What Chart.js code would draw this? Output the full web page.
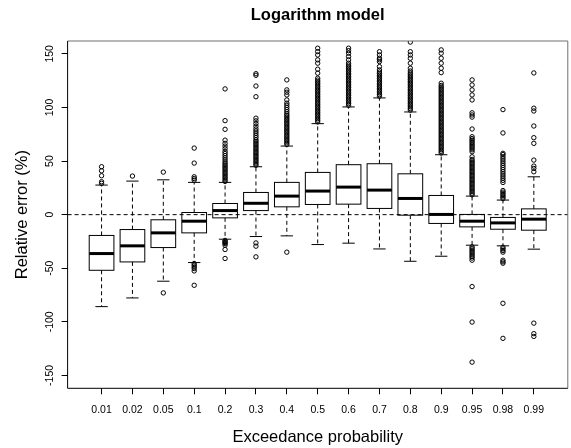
<!DOCTYPE html>
<html>
<head>
<meta charset="utf-8">
<title>Logarithm model</title>
<script src="https://cdn.jsdelivr.net/npm/chart.js@4/dist/chart.umd.min.js"></script>
<style>
  html, body { margin: 0; padding: 0; background: #fff; }
  #wrap { width: 571px; height: 448px; }
</style>
</head>
<body>
<div id="wrap"><canvas id="chart" width="571" height="448"></canvas></div>
<script>
// Exceedance probabilities (one box per category)
const categories = ['0.01', '0.02', '0.05', '0.1', '0.2', '0.3', '0.4', '0.5',
                    '0.6', '0.7', '0.8', '0.9', '0.95', '0.98', '0.99'];

// Box statistics of the relative error (%)
const whiskerLow  = [-85.8, -77.7, -62.1, -44.7, -22.9, -20.4, -19.8, -27.9, -26.6, -32.0, -43.5, -38.8, -28.5, -29.1, -32.2];
const lowerQuart  = [-51.9, -44.1, -30.7, -17.0,  -3.0,   3.8,   7.3,   9.5,   9.8,   5.8,  -0.5,  -8.2, -11.4, -13.6, -14.5];
const medians     = [-36.3, -29.1, -17.0,  -6.1,   3.8,  10.6,  17.3,  22.0,  25.7,  22.9,  15.1,   0.2,  -6.1,  -7.7,  -4.2];
const upperQuart  = [-19.4, -13.9,  -4.8,   2.0,  10.4,  20.7,  30.1,  39.4,  46.6,  47.5,  38.1,  17.9,   0.2,  -2.6,   5.4];
const whiskerHigh = [ 27.6,  31.3,  32.5,  30.1,  30.1,  44.7,  64.0,  84.9, 100.5, 108.9,  95.8,  55.9,  17.3,  13.6,  35.3];

// Points beyond the whiskers, per category
const outliers = [
  [29.2, 30.7, 36.3, 40.9, 44.7],
  [36.0],
  [39.7, -73.0],
  [32.2, 33.7, 35.3, 48.1, 62.1, -45.6, -47.2, -48.8, -50.3, -52.5, -65.9],
  [31, 32.5, 34, 35.5, 37, 38.5, 40, 41.5, 43, 44.5, 46, 47.5, 49, 51, 53, 55, 57, 59, 61.5, 64, 66.5, 69.5, 79.6, 87.7, 117.3,
   -24, -25, -26, -27, -28.5, -32.5, -40.9],
  [46, 47.5, 49, 50.5, 52, 53.5, 55, 56.5, 58, 59.5, 61, 62.5, 64, 65.5, 67, 68.5, 70, 72, 74, 76, 78, 80, 82.5, 85, 87.5, 90,
   110, 120, 130, 131.5, -26.4, -29.4, -39.4],
  [65.5, 67, 68.5, 70, 71.5, 73, 74.5, 76, 77.5, 79, 80.5, 82, 83.5, 85, 86.5, 88, 89.5, 91, 92.5, 94, 96, 98, 100, 102, 104,
   107, 111.7, 114.2, 116.4, 125.7, -35],
  [86.5, 88, 89.5, 91, 92.5, 94, 95.5, 97, 98.5, 100, 101.5, 103, 104.5, 106, 107.5, 109, 110.5, 112, 113.5, 115, 116.5, 118,
   119.5, 121, 122.5, 124, 125.5, 127.3, 132, 135.7, 141.3, 144.4, 149, 152.1, 155.3],
  [102, 103.5, 105, 106.5, 108, 109.5, 111, 112.5, 114, 115.5, 117, 118.5, 120, 121.5, 123, 124.5, 126, 127.5, 129, 130.5,
   132, 133.5, 135, 136.5, 138, 139.5, 141.3, 144.4, 147.5, 150.6, 153, 155.3],
  [110.5, 112, 113.5, 115, 116.5, 118, 119.5, 121, 122.5, 124, 125.5, 127, 128.5, 130, 131.5, 133, 135, 138.1, 142.8, 144.5,
   145.9, 149, 152],
  [97.5, 99, 100.5, 102, 103.5, 105, 106.5, 108, 109.5, 111, 112.5, 114, 115.5, 117, 118.5, 120, 121.5, 123, 124.5, 126,
   127.5, 129, 130.5, 132, 134, 136.6, 141.3, 145.9, 149, 152, 161],
  [57.5, 59, 60.5, 62, 63.5, 65, 66.5, 68, 69.5, 71, 72.5, 74, 75.5, 77, 78.5, 80, 81.5, 83, 84.5, 86, 87.5, 89, 90.5, 92,
   93.5, 95, 96.5, 98, 99.5, 101, 102.5, 104, 105.5, 107, 108.5, 110, 111.5, 113, 114.5, 116, 117.5, 119, 120.5, 122.6,
   132.5, 136.6, 141.3, 145.9, 150.6, 153.7],
  [18.5, 20, 21.5, 23, 24.5, 26, 27.5, 29, 30.5, 32, 33.5, 35, 36.5, 38, 39.5, 41, 42.5, 44, 45.5, 47, 48.5, 50, 51.5, 54,
   58.7, 60.5, 62, 63.5, 65, 66.5, 68, 69.5, 71, 72.7, 79.9, 91, 93, 95, 107, 111.7, 116.4, 121, 125.7,
   -30, -31.5, -33, -34.5, -36, -37.5, -39, -40.5, -42.5, -67.1, -100.2, -137.6],
  [15, 16.5, 18, 19.5, 21, 22.5, 30, 32, 34, 36, 38, 40, 42, 44, 46, 48, 50, 52, 54, 56, 57.2, 76.2, 98,
   -30.5, -32, -33.5, -35, -42.5, -44, -45.3, -82.7, -115.4],
  [40, 43.1, 45.3, 50.9, 66.5, 71.8, 82.7, 96.7, 99.3, 132.2, -101.2, -111, -113.6]
];

// Axis settings
const yTicks = [-150, -100, -50, 0, 50, 100, 150];
const yRange = [-162, 162];
const xRange = [-0.1, 16.1];

const FONT = '"Liberation Sans", Arial, Helvetica, sans-serif';
const BOX_HALF = 0.4;     // half box width, in category units
const STAPLE_HALF = 0.2;  // half whisker-cap width

const outlierPoints = [];
outliers.forEach((vals, i) => vals.forEach(v => outlierPoints.push({ x: i + 1, y: v })));

function seg(ctx, x1, y1, x2, y2) {
  ctx.beginPath();
  ctx.moveTo(x1, y1);
  ctx.lineTo(x2, y2);
  ctx.stroke();
}

// Draws boxes, whiskers, medians, the zero line, the frame and the y tick labels
const boxPlot = {
  id: 'boxPlot',
  beforeDatasetsDraw(chart) {
    const { ctx, scales: { x, y } } = chart;
    ctx.save();
    ctx.strokeStyle = '#000';
    ctx.lineWidth = 1;
    categories.forEach((c, i) => {
      const pos = i + 1;
      const xc = x.getPixelForValue(pos);
      const xl = x.getPixelForValue(pos - BOX_HALF);
      const xr = x.getPixelForValue(pos + BOX_HALF);
      const sl = x.getPixelForValue(pos - STAPLE_HALF);
      const sr = x.getPixelForValue(pos + STAPLE_HALF);
      const yLo = y.getPixelForValue(whiskerLow[i]);
      const yQ1 = y.getPixelForValue(lowerQuart[i]);
      const yMd = y.getPixelForValue(medians[i]);
      const yQ3 = y.getPixelForValue(upperQuart[i]);
      const yHi = y.getPixelForValue(whiskerHigh[i]);

      ctx.lineWidth = 1;
      ctx.setLineDash([4, 3]);
      seg(ctx, xc, yQ3, xc, yHi);
      seg(ctx, xc, yQ1, xc, yLo);
      ctx.setLineDash([]);
      seg(ctx, sl, yHi, sr, yHi);
      seg(ctx, sl, yLo, sr, yLo);

      ctx.strokeRect(xl, yQ3, xr - xl, yQ1 - yQ3);

      ctx.lineWidth = 3;
      ctx.lineCap = 'butt';
      seg(ctx, xl, yMd, xr, yMd);
    });
    ctx.restore();
  },
  afterDraw(chart) {
    const { ctx, chartArea: a, scales: { y } } = chart;
    ctx.save();
    // reference line at zero
    ctx.strokeStyle = '#000';
    ctx.lineWidth = 1;
    ctx.setLineDash([4, 3]);
    const y0 = y.getPixelForValue(0);
    seg(ctx, a.left, y0, a.right, y0);
    ctx.setLineDash([]);

    // plot frame
    ctx.strokeStyle = '#6e6e6e';
    seg(ctx, a.left, a.top, a.right, a.top);
    seg(ctx, a.right, a.top, a.right, a.bottom);
    ctx.strokeStyle = '#000';
    seg(ctx, a.left, a.top, a.left, a.bottom);
    seg(ctx, a.left, a.bottom, a.right, a.bottom);

    // y tick labels, written along the axis
    ctx.fillStyle = '#000';
    ctx.font = '10.5px ' + FONT;
    ctx.textAlign = 'center';
    ctx.textBaseline = 'middle';
    y.ticks.forEach(t => {
      const py = y.getPixelForValue(t.value);
      ctx.save();
      ctx.translate(a.left - 17.5, py);
      ctx.rotate(-Math.PI / 2);
      ctx.fillText(String(t.value), 0, 0);
      ctx.restore();
    });
    ctx.restore();
  }
};

new Chart(document.getElementById('chart'), {
  type: 'scatter',
  data: {
    datasets: [{
      data: outlierPoints,
      pointStyle: 'circle',
      pointRadius: 2.2,
      pointHoverRadius: 2.2,
      pointBorderWidth: 1,
      borderColor: '#000',
      backgroundColor: 'rgba(0,0,0,0)'
    }]
  },
  options: {
    responsive: false,
    animation: false,
    devicePixelRatio: 1,
    events: [],
    layout: { padding: { left: 0, right: 1.2, top: 0, bottom: 0 } },
    plugins: {
      legend: { display: false },
      tooltip: { enabled: false },
      title: {
        display: true,
        text: 'Logarithm model',
        fullSize: false,
        color: '#000',
        font: { family: FONT, size: 16.5, weight: 'bold', lineHeight: 1.2 },
        padding: { top: 5.5, bottom: 15.7 }
      }
    },
    scales: {
      x: {
        type: 'linear',
        min: xRange[0],
        max: xRange[1],
        afterBuildTicks: s => { s.ticks = categories.map((c, i) => ({ value: i + 1 })); },
        afterFit: s => { s.height = 59.7; },
        ticks: {
          callback: v => categories[v - 1],
          color: '#000',
          font: { family: FONT, size: 10.5, lineHeight: 1.2 },
          padding: 10,
          maxRotation: 0,
          minRotation: 0,
          autoSkip: false
        },
        grid: { drawOnChartArea: false, drawTicks: true, tickLength: 6, color: '#000' },
        border: { display: false },
        title: {
          display: true,
          text: 'Exceedance probability',
          color: '#000',
          font: { family: FONT, size: 16.5, lineHeight: 1.2 },
          padding: { top: 0, bottom: 1 }
        }
      },
      y: {
        type: 'linear',
        min: yRange[0],
        max: yRange[1],
        afterBuildTicks: s => { s.ticks = yTicks.map(v => ({ value: v })); },
        afterFit: s => { s.width = 67.6; },
        ticks: { display: false },
        grid: { drawOnChartArea: false, drawTicks: true, tickLength: 6, color: '#000' },
        border: { display: false },
        title: {
          display: true,
          text: 'Relative error (%)',
          color: '#000',
          font: { family: FONT, size: 16.5, lineHeight: 1.2 },
          padding: { top: 13, bottom: 0 }
        }
      }
    }
  },
  plugins: [boxPlot]
});
</script>
</body>
</html>
